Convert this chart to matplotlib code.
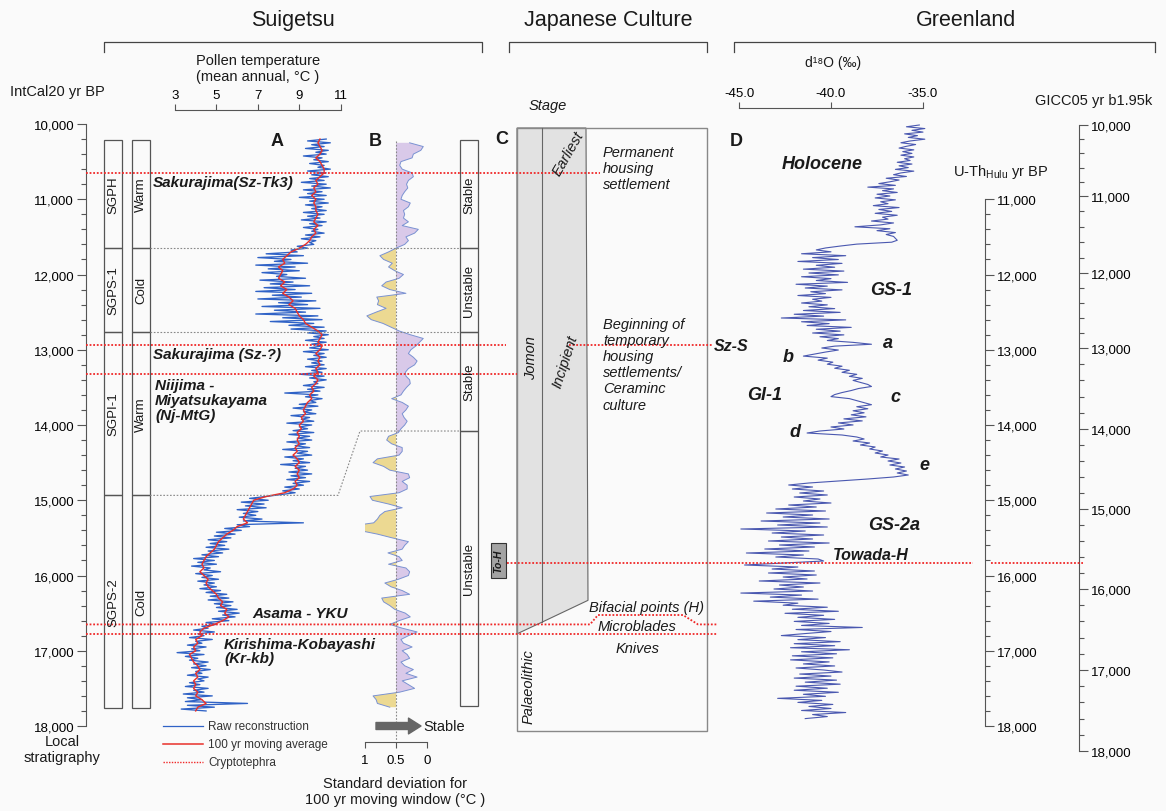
import numpy as np
import matplotlib.pyplot as plt
from matplotlib.patches import Rectangle, Polygon

plt.rcParams['font.family'] = ['Liberation Sans', 'DejaVu Sans']
plt.rcParams['mathtext.fontset'] = 'custom'
plt.rcParams['mathtext.rm'] = 'Liberation Sans'
plt.rcParams['mathtext.it'] = 'Liberation Sans:italic'
plt.rcParams['mathtext.bf'] = 'Liberation Sans:bold'

# ---------------- data ----------------
# A: pollen temperature (mean annual, degC), raw every 25 yr from 10,200 yr BP
raw_start, raw_step = 10200, 25
raw_temp = [
    10.3, 9.4, 10.5, 9.6, 10.2, 9.3, 10.4, 9.8, 10.3, 9.2, 10.1, 9.7, 10.4, 9.5, 10.2, 9.9, 10.5, 9.4, 10.3, 9.6,
    10.4, 9.5, 10.2, 9.1, 10.3, 9.6, 10.5, 9.2, 10.1, 9.4, 10.3, 9.0, 10.2, 9.5, 10.4, 9.3, 10.1, 9.6, 10.3, 9.2,
    10.2, 9.4, 10.0, 9.1, 10.3, 9.5, 10.1, 9.2, 9.9, 9.6, 10.2, 9.3, 10.0, 9.1, 9.8, 9.5, 9.7, 8.9, 9.4, 8.6,
    8.9, 7.4, 9.2, 7.0, 8.6, 7.8, 9.4, 6.9, 8.8, 7.5, 9.0, 7.2, 8.4, 7.9, 9.3, 7.1, 8.7, 7.6, 9.5, 7.3,
    8.8, 6.9, 9.6, 7.7, 9.1, 7.0, 9.8, 8.0, 9.4, 7.2, 10.0, 7.8, 9.3, 6.9, 9.9, 8.2, 10.1, 7.6, 9.7, 8.5,
    10.2, 8.6, 10.3, 9.4, 10.4, 9.7, 10.2, 9.3, 10.3, 9.6, 10.1, 9.5, 10.4, 9.2, 10.2, 9.7, 10.3, 9.4, 10.1, 9.6,
    10.2, 9.3, 10.3, 9.6, 10.1, 9.0, 10.2, 9.5, 10.3, 9.7, 9.9, 9.2, 10.2, 9.4, 10.0, 8.3, 9.9, 9.3, 10.1, 9.5,
    9.8, 9.0, 9.9, 8.7, 9.6, 9.2, 9.8, 8.6, 9.5, 9.1, 9.7, 8.4, 9.6, 9.0, 9.4, 8.7, 9.7, 8.5, 9.5, 8.9,
    9.6, 8.4, 9.3, 8.8, 9.5, 8.2, 9.4, 8.9, 9.6, 8.3, 9.2, 8.7, 9.5, 8.1, 9.3, 8.8, 9.4, 8.5, 9.6, 8.6,
    9.3, 8.4, 9.5, 8.7, 9.2, 8.3, 9.0, 8.2, 8.8, 8.1, 7.4, 6.6, 7.5, 6.2, 7.3, 6.4, 7.4, 6.0, 7.0, 6.3,
    6.9, 6.1, 7.2, 6.3, 9.2, 6.0, 6.6, 5.4, 6.2, 5.0, 5.9, 4.9, 5.7, 4.6, 5.5, 4.7, 5.4, 4.5, 5.6, 4.6,
    5.3, 4.3, 5.1, 3.9, 4.9, 4.1, 5.0, 3.8, 4.7, 4.4, 5.2, 4.0, 4.8, 4.3, 5.1, 4.1, 4.9, 4.4, 5.0, 4.2,
    5.2, 4.5, 5.5, 4.7, 5.6, 4.6, 5.8, 4.9, 5.7, 5.0, 6.0, 5.1, 6.1, 5.3, 5.9, 4.8, 5.6, 4.5, 5.0, 4.3,
    4.6, 3.9, 4.9, 4.1, 4.4, 3.7, 4.8, 4.0, 4.3, 3.6, 4.5, 3.8, 4.2, 3.1, 4.4, 3.5, 4.1, 3.7, 4.6, 3.9,
    4.5, 3.8, 4.7, 4.0, 4.3, 3.6, 4.6, 4.1, 4.4, 3.7, 4.2, 3.5, 4.6, 3.9, 4.4, 3.4, 4.8, 3.6, 4.3, 3.5,
    6.5, 3.6, 4.9, 3.3, 4.5,
]
# A: 100 yr moving average, read every 50 yr
avg_start, avg_step = 10200, 50
avg_temp = [
    10.0, 9.9, 10.0, 10.1, 10.0, 9.8, 10.0, 10.1, 10.2, 10.2,
    10.0, 9.8, 9.9, 9.7, 9.8, 9.6, 9.8, 9.7, 9.8, 9.8,
    9.9, 9.8, 9.7, 9.9, 9.7, 9.8, 9.6, 9.5, 9.3, 9.0,
    8.6, 8.4, 8.2, 8.3, 8.0, 8.2, 8.1, 8.0, 8.3, 8.1,
    8.4, 8.2, 8.5, 8.7, 8.5, 8.8, 8.9, 9.0, 9.2, 9.3,
    9.6, 9.9, 10.1, 10.0, 9.9, 10.1, 10.0, 9.8, 10.0, 9.9,
    10.0, 9.8, 9.9, 9.7, 9.9, 9.8, 9.6, 9.7, 9.5, 9.6,
    9.4, 9.3, 9.2, 9.3, 9.1, 9.2, 9.0, 9.1, 8.9, 9.0,
    8.9, 9.0, 8.8, 8.9, 8.7, 8.9, 9.0, 8.8, 9.0, 8.9,
    9.0, 8.8, 8.9, 8.7, 8.3, 7.4, 6.8, 6.7, 6.6, 6.5,
    6.4, 6.3, 6.5, 6.0, 5.8, 5.5, 5.3, 5.1, 5.0, 4.9,
    4.7, 4.5, 4.4, 4.3, 4.4, 4.2, 4.4, 4.6, 4.5, 4.6,
    4.8, 5.0, 5.1, 5.3, 5.2, 5.5, 5.4, 5.6, 5.3, 4.9,
    4.4, 4.2, 4.3, 4.0, 4.1, 3.9, 4.0, 3.7, 3.8, 3.9,
    4.1, 4.2, 4.0, 4.1, 3.9, 4.0, 3.9, 4.1, 4.0, 4.3,
    4.5, 4.1, 4.0,
]
# B: standard deviation for 100 yr moving window (degC), every 50 yr
sd_start, sd_step = 10250, 50
sd_window = [
    0.28, 0.06, 0.10, 0.22, 0.24, 0.42, 0.44, 0.40, 0.24, 0.22,
    0.30, 0.33, 0.31, 0.36, 0.40, 0.42, 0.27, 0.30, 0.38, 0.36,
    0.38, 0.30, 0.40, 0.14, 0.20, 0.34, 0.30, 0.36, 0.50,
    0.62, 0.76, 0.70, 0.56, 0.62, 0.52, 0.38, 0.45, 0.66, 0.73,
    0.60, 0.34, 0.81, 0.78, 0.80, 0.66, 0.82, 0.97, 0.90, 0.71,
    0.58, 0.45, 0.27, 0.06, 0.12, 0.18, 0.26, 0.30, 0.22, 0.16,
    0.20, 0.30, 0.35, 0.34, 0.28, 0.27, 0.33, 0.38, 0.42, 0.57,
    0.40, 0.30, 0.34, 0.40, 0.37, 0.32, 0.36, 0.42, 0.46, 0.62,
    0.65, 0.57, 0.40, 0.40, 0.45, 0.80, 0.87, 0.70, 0.60, 0.30,
    0.28, 0.40, 0.32, 0.32, 0.45, 0.92, 0.88, 0.62, 0.40, 0.68,
    0.76, 0.80, 0.86, 1.29, 1.10, 0.80, 0.56, 0.30, 0.36, 0.40,
    0.63, 0.45, 0.40, 0.62, 0.34, 0.28, 0.30, 0.46, 0.68, 0.58,
    0.40, 0.28, 0.73, 0.70, 0.60, 0.52, 0.35, 0.27, 0.45, 0.60,
    0.40, 0.16, 0.30, 0.42, 0.38, 0.24, 0.40, 0.32, 0.28, 0.42,
    0.36, 0.22, 0.34, 0.16, 0.40, 0.30, 0.20, 0.44, 0.87, 0.82,
    0.80, 0.60,
]
# D: Greenland d18O (permil) on GICC05 ages, every 25 yr from 10,000
d18o_start, d18o_step = 10000, 25
d18o = [
    -35.2, -35.9, -34.9, -35.6, -35.0, -36.0, -35.3, -35.8, -34.9, -35.7, -36.2, -35.4, -35.9, -36.3, -35.5, -36.1, -35.6, -36.2, -35.5, -36.0,
    -35.7, -36.4, -35.6, -36.3, -35.8, -36.5, -35.5, -36.2, -36.6, -35.9, -37.0, -36.3, -36.8, -37.4, -36.5, -38.0, -36.6, -37.2, -36.4, -37.5,
    -36.8, -37.6, -36.5, -37.3, -36.9, -37.7, -36.3, -37.4, -36.7, -37.6, -36.4, -37.2, -36.9, -37.8, -36.6, -37.3, -38.7, -36.8, -37.5, -36.5,
    -37.0, -36.6, -36.5, -36.4, -36.7, -38.6, -39.5, -40.3, -40.8, -40.0, -41.6, -39.2, -41.0, -39.6, -41.8, -39.4, -40.8, -39.8, -41.5, -39.3,
    -41.2, -39.6, -41.6, -40.0, -40.8, -39.1, -41.9, -40.2, -41.4, -39.4, -41.1, -40.3, -41.8, -40.0, -41.0, -40.5, -41.6, -40.2, -41.2, -39.8,
    -41.5, -39.5, -42.0, -40.4, -42.7, -39.2, -41.6, -40.1, -41.3, -38.9, -40.8, -39.5, -41.0, -39.3, -40.6, -39.6, -40.2, -38.8, -37.8, -39.8,
    -40.5, -39.6, -40.3, -40.9, -41.5, -40.2, -40.7, -39.9, -40.2, -39.4, -39.8, -39.0, -39.4, -38.6, -39.0, -38.3, -38.8, -38.4, -38.0, -37.8,
    -38.5, -38.9, -39.4, -39.8, -40.0, -39.0, -38.6, -38.2, -37.8, -38.6, -38.0, -38.8, -38.2, -38.9, -38.1, -39.3, -38.3, -39.6, -38.8, -40.0,
    -39.3, -40.6, -41.3, -39.4, -38.6, -38.2, -38.8, -37.9, -38.4, -37.6, -37.9, -37.2, -37.6, -36.9, -37.3, -36.3, -36.9, -36.2, -36.8, -36.0,
    -36.5, -35.9, -36.4, -35.8, -36.6, -38.0, -39.6, -41.2, -42.3, -41.0, -42.1, -40.4, -41.7, -40.2, -42.0, -40.6, -41.5, -40.0, -42.3, -40.8,
    -43.0, -40.3, -43.5, -41.0, -42.6, -40.1, -43.8, -40.6, -42.9, -40.2, -44.9, -41.4, -43.2, -40.4, -42.7, -41.0, -43.4, -40.1, -42.8, -40.9,
    -43.6, -41.2, -44.6, -41.5, -43.0, -40.7, -40.4, -42.5, -44.7, -41.8, -43.2, -40.9, -43.4, -40.8, -42.6, -41.3, -43.9, -40.6, -42.8, -41.5,
    -43.1, -41.0, -44.9, -41.6, -43.3, -40.7, -44.2, -41.8, -42.6, -40.2, -42.1, -39.6, -42.5, -40.4, -41.8, -39.8, -42.0, -40.1, -41.6, -38.3,
    -41.9, -40.0, -41.4, -42.7, -40.3, -41.8, -39.5, -42.0, -39.8, -42.2, -39.0, -41.6, -39.7, -42.1, -39.9, -42.2, -40.1, -41.5, -39.8, -41.9,
    -40.4, -39.4, -41.7, -40.0, -42.0, -39.7, -41.4, -39.5, -41.9, -40.2, -42.0, -39.6, -41.5, -40.3, -42.9, -40.5, -41.8, -39.9, -41.2, -40.0,
    -41.6, -39.2, -41.0, -40.2, -41.4,
]

# local stratigraphy and stability zones (IntCal20 yr BP)
zone_names = ['SGPH', 'SGPS-1', 'SGPI-1', 'SGPS-2']
climate = ['Warm', 'Cold', 'Warm', 'Cold']
zone_bounds = [10210, 11650, 12760, 14935, 17760]
stability = ['Stable', 'Unstable', 'Stable', 'Unstable']
stab_bounds = [10210, 11650, 12760, 14080, 17730]

# cryptotephra layers (IntCal20 yr BP)
sz_tk3, sz_q, nj_mtg, asama, kr_kb, towada = 10650, 12935, 13325, 16650, 16775, 15830
microblade_top = 16525

# ages of axis ticks
age_ticks = list(range(10000, 18001, 1000))
hulu_ticks = list(range(11000, 18001, 1000))
# pixel rows of the GICC05 ticks (the GICC05 scale is not linear against IntCal20)
gicc_px = [126, 197, 274, 349, 430, 510, 590, 671, 752]

# ---------------- layout helpers ----------------
W, H = 1166, 812
BG = '#fafafa'
BLUE = '#2f62c6'
RED = '#e8302a'
TEPHRA = '#f02828'
PURPLE = '#d9c9e9'
YELLOW = '#ecd992'
EDGE_B = '#7a92d2'
D_BLUE = '#4a58b0'
BOX = '#555555'
TXT = '#1a1a1a'


def yr(py):
    """pixel row -> IntCal20 year"""
    return 10000 + (py - 125) / 0.07525


def gicc_fwd(g):
    g = np.asarray(g, dtype=float)
    p = np.interp(g, age_ticks, gicc_px)
    p = np.where(g < age_ticks[0], gicc_px[0] + (g - age_ticks[0]) * 0.071, p)
    p = np.where(g > age_ticks[-1], gicc_px[-1] + (g - age_ticks[-1]) * 0.081, p)
    return p


def gicc_inv(p):
    p = np.asarray(p, dtype=float)
    g = np.interp(p, gicc_px, age_ticks)
    g = np.where(p < gicc_px[0], age_ticks[0] + (p - gicc_px[0]) / 0.071, g)
    g = np.where(p > gicc_px[-1], age_ticks[-1] + (p - gicc_px[-1]) / 0.081, g)
    return g


fig = plt.figure(figsize=(W / 100, H / 100), dpi=100, facecolor=BG)


def add_ax(x0, x1, xlim):
    ax = fig.add_axes([x0 / W, 0, (x1 - x0) / W, 1])
    ax.set_xlim(xlim)
    ax.set_ylim(yr(H), yr(0))
    ax.patch.set_alpha(0)
    for s in ax.spines.values():
        s.set_visible(False)
    ax.set_xticks([])
    ax.set_yticks([])
    return ax


def fmt(v):
    return '{:,}'.format(int(v))


# ---------------- IntCal20 age axis ----------------
ax_age = add_ax(86, 100, (0, 1))
ax_age.spines['left'].set_visible(True)
ax_age.spines['left'].set_bounds(10000, 18000)
ax_age.spines['left'].set_color('#555')
ax_age.set_yticks(age_ticks, [fmt(v) for v in age_ticks])
ax_age.set_yticks(np.arange(10000, 18001, 200), minor=True)
ax_age.tick_params(axis='y', which='major', length=6.5, width=0.8, color='#555', labelsize=9.5, pad=2)
ax_age.tick_params(axis='y', which='minor', length=3.5, width=0.8, color='#555')

# ---------------- A: pollen temperature ----------------
ax_a = add_ax(175, 340.7, (3, 11))
raw_age = raw_start + raw_step * np.arange(len(raw_temp))
avg_age = avg_start + avg_step * np.arange(len(avg_temp))
ax_a.plot(raw_temp, raw_age, color=BLUE, lw=0.95, clip_on=False)
ax_a.plot(avg_temp, avg_age, color=RED, lw=1.0, clip_on=False)
ax_a.spines['top'].set_visible(True)
ax_a.spines['top'].set_position(('data', yr(111)))
ax_a.spines['top'].set_bounds(3, 11)
ax_a.spines['top'].set_color('#555')
ax_a.xaxis.set_ticks_position('top')
ax_a.set_xticks([3, 5, 7, 9, 11])
ax_a.tick_params(axis='x', length=4.5, width=0.8, color='#555', labelsize=9.5, pad=2)

# ---------------- B: standard deviation ----------------
ax_b = add_ax(365, 427, (1, 0))
sd = np.array(sd_window)
sd_age = sd_start + sd_step * np.arange(len(sd))
ax_b.fill_betweenx(sd_age, sd, 0.5, where=sd <= 0.5, color=PURPLE, interpolate=True, lw=0)
ax_b.fill_betweenx(sd_age, sd, 0.5, where=sd >= 0.5, color=YELLOW, interpolate=True, lw=0)
ax_b.plot(sd, sd_age, color=EDGE_B, lw=0.7)
ax_b.vlines(0.5, sd_age[0] - 30, yr(741), color='#888', lw=0.8, linestyles=(0, (1.5, 1.5)))
ax_b.spines['bottom'].set_visible(True)
ax_b.spines['bottom'].set_position(('data', yr(743)))
ax_b.spines['bottom'].set_bounds(0, 1)
ax_b.spines['bottom'].set_color('#555')
ax_b.set_xticks([1, 0.5, 0], ['1', '0.5', '0'])
ax_b.tick_params(axis='x', length=4.5, width=0.8, color='#555', labelsize=9.5, pad=4)

# ---------------- D: Greenland d18O ----------------
ax_d = fig.add_axes([739 / W, 0, 340 / W, 1])
ax_d.patch.set_alpha(0)
ax_d.set_yscale('function', functions=(gicc_fwd, gicc_inv))
ax_d.set_ylim(float(gicc_inv(H)), float(gicc_inv(0)))
ax_d.set_xlim(-45, -45 + 340 / 18.4)
d_age = d18o_start + d18o_step * np.arange(len(d18o))
ax_d.plot(d18o, d_age, color=D_BLUE, lw=0.8)
for s in ax_d.spines.values():
    s.set_visible(False)
ax_d.spines['top'].set_visible(True)
ax_d.spines['top'].set_position(('data', float(gicc_inv(109))))
ax_d.spines['top'].set_bounds(-45, -35)
ax_d.spines['top'].set_color('#555')
ax_d.xaxis.set_ticks_position('top')
ax_d.set_xticks([-45, -40, -35], ['-45.0', '-40.0', '-35.0'])
ax_d.tick_params(axis='x', length=4.5, width=0.8, color='#555', labelsize=9.5, pad=2)
ax_d.spines['right'].set_visible(True)
ax_d.spines['right'].set_bounds(10000, 18000)
ax_d.spines['right'].set_color('#555')
ax_d.yaxis.set_ticks_position('right')
ax_d.set_yticks(age_ticks, [fmt(v) for v in age_ticks])
ax_d.set_yticks(np.arange(10000, 18001, 200), minor=True)
ax_d.yaxis.set_minor_formatter(plt.NullFormatter())
ax_d.tick_params(axis='y', which='major', length=6.5, width=0.8, color='#555', labelsize=9.5, pad=2)
ax_d.tick_params(axis='y', which='minor', length=3.5, width=0.8, color='#555')

# U-Th Hulu axis (same scale as IntCal20)
ax_h = add_ax(950, 985, (0, 1))
ax_h.spines['right'].set_visible(True)
ax_h.spines['right'].set_bounds(11000, 18000)
ax_h.spines['right'].set_color('#555')
ax_h.yaxis.set_ticks_position('right')
ax_h.set_yticks(hulu_ticks, [fmt(v) for v in hulu_ticks])
ax_h.set_yticks(np.arange(11000, 18001, 200), minor=True)
ax_h.tick_params(axis='y', which='major', length=6.5, width=0.8, color='#555', labelsize=9.5, pad=2)
ax_h.tick_params(axis='y', which='minor', length=3.5, width=0.8, color='#555')

# ---------------- overlay: boxes, tephra lines, labels ----------------
ov = add_ax(0, W, (0, W))

# headers and brackets
for x0, x1, title in [(104, 482, 'Suigetsu'), (509, 707, 'Japanese Culture'), (734, 1155, 'Greenland')]:
    ov.plot([x0, x0, x1, x1], [yr(53), yr(43), yr(43), yr(53)], color='#444', lw=0.9)
    ov.text((x0 + x1) / 2 if title != 'Greenland' else 966, yr(20), title, fontsize=15.5,
            ha='center', va='center', color=TXT)

ov.text(10, yr(92), 'IntCal20 yr BP', fontsize=10.5, va='center', color=TXT)
ov.text(258, yr(69), 'Pollen temperature\n(mean annual, °C )', fontsize=10.5, ha='center',
        va='center', linespacing=1.15, color=TXT)
ov.text(833, yr(63), 'd¹⁸O (‰)', fontsize=10, ha='center', va='center', color=TXT)
ov.text(1035, yr(101), 'GICC05 yr b1.95k', fontsize=10.5, va='center', color=TXT)
ov.text(953, yr(172), r'U-Th$_{\mathrm{Hulu}}$ yr BP', fontsize=10.5, va='center', color=TXT)

for x, py, lab in [(277, 141, 'A'), (375, 141, 'B'), (502, 139, 'C'), (736, 141, 'D')]:
    ov.text(x, yr(py), lab, fontsize=13, fontweight='bold', ha='center', va='center', color=TXT)

# stratigraphy columns
for x0, x1, names, bounds in [(104, 122, zone_names, zone_bounds), (132, 150, climate, zone_bounds),
                              (460, 478, stability, stab_bounds)]:
    for i, name in enumerate(names):
        top, bot = bounds[i], bounds[i + 1]
        ov.add_patch(Rectangle((x0, top), x1 - x0, bot - top, fill=False, ec=BOX, lw=0.9))
        ov.text((x0 + x1) / 2, (top + bot) / 2, name, rotation=90, fontsize=9.5,
                ha='center', va='center', color=TXT)

dot = (0, (1.5, 1.5))
ov.plot([150, 460], [zone_bounds[1]] * 2, color='#888', lw=0.8, ls=dot)
ov.plot([150, 460], [zone_bounds[2]] * 2, color='#888', lw=0.8, ls=dot)
ov.plot([150, 338, 360, 460], [zone_bounds[3], zone_bounds[3], stab_bounds[3], stab_bounds[3]],
        color='#888', lw=0.8, ls=dot)

ov.text(62, yr(750), 'Local\nstratigraphy', fontsize=10.5, ha='center', va='center',
        linespacing=1.1, color=TXT)

# legend
ov.plot([163, 203], [yr(727)] * 2, color=BLUE, lw=0.9)
ov.plot([163, 203], [yr(745)] * 2, color=RED, lw=1.1)
ov.plot([163, 203], [yr(763)] * 2, color=TEPHRA, lw=1.0, ls=(0, (1, 1)))
for py, lab in [(727, 'Raw reconstruction'), (745, '100 yr moving average'), (763, 'Cryptotephra')]:
    ov.text(208, yr(py), lab, fontsize=8.5, va='center', color='#333')

ov.annotate('', xy=(421, yr(727)), xytext=(376, yr(727)),
            arrowprops=dict(arrowstyle='simple,head_length=0.75,head_width=0.95,tail_width=0.42',
                            color='#666', mutation_scale=12, shrinkA=0, shrinkB=0))
ov.text(423, yr(727), 'Stable', fontsize=10.5, va='center', color=TXT)
ov.text(395, yr(792), 'Standard deviation for\n100 yr moving window (°C )', fontsize=10.5,
        ha='center', va='center', linespacing=1.15, color=TXT)

# C: cultural stages
c_top, c_bot = yr(129), yr(732)
ov.add_patch(Polygon([(517, c_top), (586, c_top), (588, 16330), (542, 16620), (517, kr_kb)],
                     closed=True, fc='#e2e2e2', ec='#666', lw=0.8))
ov.plot([542, 542], [c_top, 16620], color='#666', lw=0.8)
ov.add_patch(Rectangle((517, c_top), 190, c_bot - c_top, fill=False, ec='#888', lw=1.0))
ov.text(548, yr(106), 'Stage', fontsize=10.5, style='italic', ha='center', va='center', color=TXT)
ov.text(568, yr(154), 'Earliest', fontsize=10.5, style='italic', rotation=60, ha='center', va='center', color=TXT)
ov.text(565, yr(362), 'Incipient', fontsize=10.5, style='italic', rotation=72, ha='center', va='center', color=TXT)
ov.text(531, yr(358), 'Jomon', fontsize=10.5, style='italic', rotation=90, ha='center', va='center', color=TXT)
ov.text(529, yr(687), 'Palaeolithic', fontsize=10.5, style='italic', rotation=90, ha='center', va='center', color=TXT)
ov.text(603, yr(169), 'Permanent\nhousing\nsettlement', fontsize=10.5, style='italic',
        va='center', linespacing=1.2, color=TXT)
ov.text(603, yr(365), 'Beginning of\ntemporary\nhousing\nsettlements/\nCeraminc\nculture', fontsize=10.5,
        style='italic', va='center', linespacing=1.2, color=TXT)
ov.text(589, yr(608), 'Bifacial points (H)', fontsize=10.5, style='italic', va='center', color=TXT)
ov.text(598, yr(627), 'Microblades', fontsize=10.5, style='italic', va='center', color=TXT)
ov.text(638, yr(649), 'Knives', fontsize=10.5, style='italic', ha='center', va='center', color=TXT)

ov.add_patch(Rectangle((491, yr(544)), 15, yr(579) - yr(544), fc='#a3a3a3', ec='#333', lw=0.8))
ov.text(498.5, yr(561.5), 'To-H', fontsize=7.5, fontweight='bold', style='italic', rotation=90,
        ha='center', va='center', color=TXT)

# cryptotephra lines
tl = dict(color=TEPHRA, lw=1.3, ls=(0, (1, 1)))
ov.plot([86, 600], [sz_tk3] * 2, **tl)
ov.plot([86, 506], [sz_q] * 2, **tl)
ov.plot([569, 713], [sz_q] * 2, **tl)
ov.plot([86, 517], [nj_mtg] * 2, **tl)
ov.plot([86, 590, 598, 683, 698, 717], [asama, asama, microblade_top, microblade_top, asama, asama], **tl)
ov.plot([86, 717], [kr_kb] * 2, **tl)
ov.plot([507, 973], [towada] * 2, **tl)
ov.plot([991, 1083], [towada] * 2, **tl)

# tephra names in A
bi = dict(fontsize=11, fontweight='bold', style='italic', va='center', color=TXT)
ov.text(153, yr(183), 'Sakurajima(Sz-Tk3)', **bi)
ov.text(153, yr(355), 'Sakurajima (Sz-?)', **bi)
ov.text(155, yr(401), 'Niijima -\nMiyatsukayama\n(Nj-MtG)', linespacing=1.05, **bi)
ov.text(252, yr(614), 'Asama - YKU', **bi)
ov.text(224, yr(652), 'Kirishima-Kobayashi\n(Kr-kb)', linespacing=1.05, **bi)

# D labels
db = dict(fontsize=13, fontweight='bold', style='italic', va='center', color=TXT)
ov.text(782, yr(164), 'Holocene', **db)
ov.text(870, yr(290), 'GS-1', **db)
ov.text(747, yr(395), 'GI-1', **db)
ov.text(868, yr(525), 'GS-2a', **db)
for x, py, lab in [(888, 343, 'a'), (788, 357, 'b'), (895, 397, 'c'), (795, 432, 'd'), (924, 465, 'e')]:
    ov.text(x, yr(py), lab, ha='center', **db)
ov.text(833, yr(555), 'Towada-H', fontsize=11.5, fontweight='bold', style='italic', va='center', color=TXT)
ov.text(714, yr(346), 'Sz-S', fontsize=11.5, fontweight='bold', style='italic', va='center', color=TXT)

fig.savefig('out.png', dpi=100, facecolor=BG)
